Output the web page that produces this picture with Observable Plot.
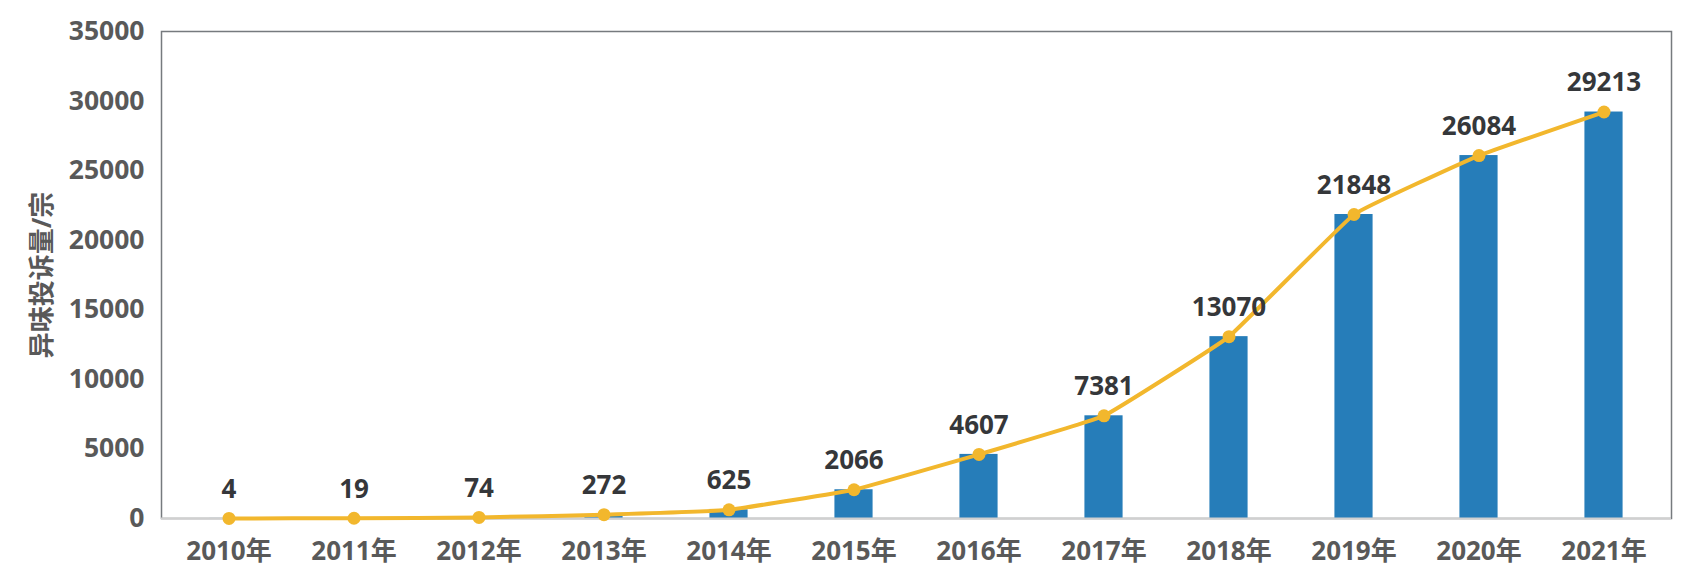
<!DOCTYPE html>
<html>
<head>
<meta charset="utf-8">
<script src="https://cdn.jsdelivr.net/npm/d3@7"></script>
<script src="https://cdn.jsdelivr.net/npm/@observablehq/plot@0.6"></script>
<style>
  html, body { margin: 0; padding: 0; background: #fff; }
  #chart svg { display: block; }
</style>
</head>
<body>
<div id="chart"></div>
<script>
const years = ["2010年","2011年","2012年","2013年","2014年","2015年","2016年","2017年","2018年","2019年","2020年","2021年"];
const complaints = [4, 19, 74, 272, 625, 2066, 4607, 7381, 13070, 21848, 26084, 29213];
const yTicks = [0, 5000, 10000, 15000, 20000, 25000, 30000, 35000];
const yTitle = "异味投诉量/宗";

const data = years.map((year, i) => ({year, value: complaints[i]}));

const W = 1684, H = 586;
const mL = 161, mR = 13, mT = 31, mB = 68;
const band = (W - mL - mR) / years.length;
const barW = 39;
const inset = (band - barW) / 2;

const fontFamily = '"Open Sans", "Noto Sans CJK SC", sans-serif';

const chart = Plot.plot({
  width: W,
  height: H,
  marginLeft: mL,
  marginRight: mR,
  marginTop: mT,
  marginBottom: mB,
  style: {fontFamily, background: "#fff"},
  x: {domain: years, padding: 0, label: null},
  y: {domain: [0, 35000], label: null},
  marks: [
    Plot.frame({stroke: "#767a7e", strokeWidth: 1.5}),
    Plot.barY(data, {x: "year", y: "value", fill: "#267db9", insetLeft: inset, insetRight: inset}),
    Plot.ruleY([0], {stroke: "#d0d0d0", strokeWidth: 2}),
    Plot.line(data, {x: "year", y: "value", stroke: "#f2b72d", strokeWidth: 4, curve: "cardinal", tension: 0.75}),
    Plot.dot(data, {x: "year", y: "value", fill: "#f2b72d", r: 6.5}),
    Plot.text(data, {x: "year", y: "value", text: d => String(d.value), dy: -29,
      fill: "#35373a", fontSize: 26, fontWeight: "bold"}),
    Plot.axisY({ticks: yTicks, tickSize: 0, tickPadding: 17, fontSize: 26.5, fontWeight: "bold",
      color: "#595959", tickFormat: d => String(d), label: null}),
    Plot.axisX({tickSize: 0, tickPadding: 23, fontSize: 26, fontWeight: "bold",
      color: "#595959", label: null}),
    Plot.text([yTitle], {frameAnchor: "left", textAnchor: "middle", rotate: -90, dx: -119, fill: "#595959",
      fontSize: 26, fontWeight: "bold"})
  ]
});

document.getElementById("chart").appendChild(chart);
</script>
</body>
</html>
